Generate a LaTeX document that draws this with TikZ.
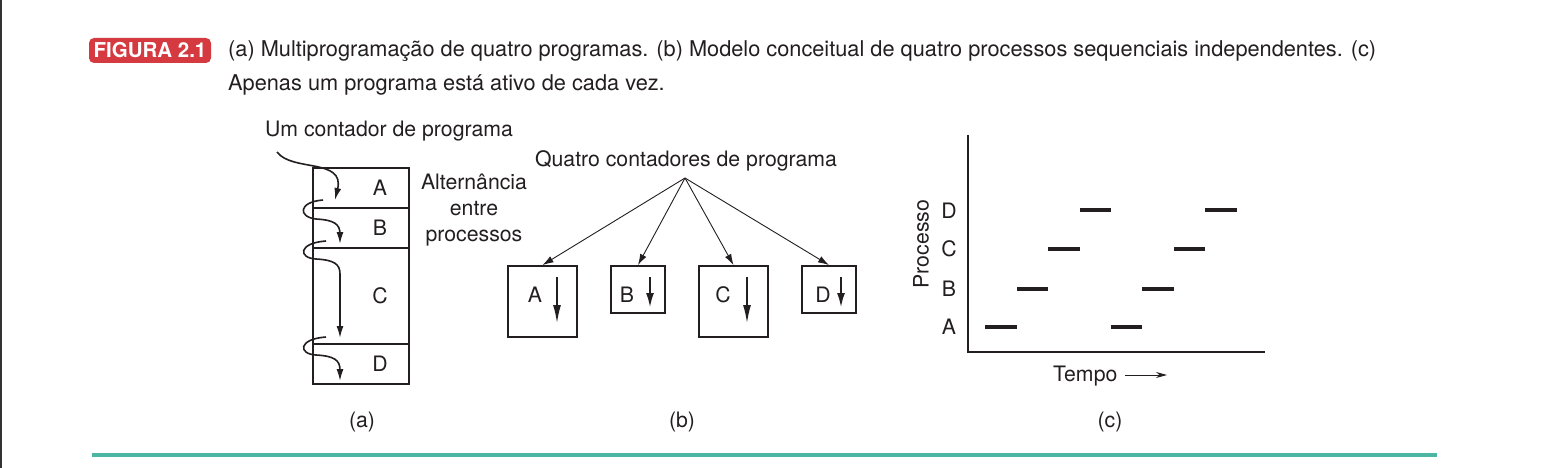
\documentclass[tikz,border=0pt]{standalone}
\usepackage{fontspec}
\setmainfont{TeX Gyre Heros}
\usetikzlibrary{arrows.meta}
\definecolor{ink}{HTML}{231F20}
\definecolor{badgered}{HTML}{D43A40}
\definecolor{rulecol}{HTML}{4DB6A2}
\definecolor{edgegray}{HTML}{333333}
\tikzset{
  lbl/.style={inner sep=0pt, text=ink, font=\fontsize{21.25}{26}\selectfont},
  captext/.style={inner sep=0pt, text=ink, font=\fontsize{21.75}{34}\selectfont, anchor=base west},
  seg/.style={draw=ink, line width=1.9pt, inner sep=0pt},
  pbox/.style={draw=ink, line width=1.9pt, inner sep=0pt},
  flow/.style={draw=ink, line width=1.6pt, -{Latex[length=12pt,width=7pt]}},
  inlong/.style={draw=ink, line width=1.5pt, -{Latex[length=18pt,width=8pt]}},
  inshort/.style={draw=ink, line width=1.5pt, -{Latex[length=14pt,width=8pt]}},
  fan/.style={draw=ink, line width=0.9pt, -{Latex[length=11pt,width=7pt]}},
  bar/.style={draw=ink, line width=4.5pt},
  axis/.style={draw=ink, line width=2pt},
}
\begin{document}
\begin{tikzpicture}[x=1pt,y=-1pt]
\useasboundingbox (0,0) rectangle (1550,468);
\fill[white] (0,0) rectangle (1550,468);
\draw[edgegray, line width=1.5pt] (0.75,0) -- (0.75,468);

% caption
\node[fill=badgered, rounded corners=5pt, minimum width=122pt, minimum height=25pt, inner sep=0pt,
      text=white, font=\fontsize{20.5}{24}\selectfont\bfseries] (badge) at (150,50.5) {FIGURA 2.1};
\node[captext] (cap1) at (228,57) {(a) Multiprogramação de quatro programas. (b) Modelo conceitual de quatro processos sequenciais independentes. (c)};
\node[captext] (cap2) at (228,91) {Apenas um programa está ativo de cada vez.};

% (a)
\node[seg, minimum width=96pt, minimum height=40pt] (sa) at (361,188) {};
\node[seg, minimum width=96pt, minimum height=40pt] (sb) at (361,228) {};
\node[seg, minimum width=96pt, minimum height=96pt] (sc) at (361,296) {};
\node[seg, minimum width=96pt, minimum height=40pt] (sd) at (361,364) {};
\node[lbl] (la) at (380,188) {A};
\node[lbl] (lb) at (380,228) {B};
\node[lbl] (lc) at (380,296) {C};
\node[lbl] (ld) at (380,364) {D};
\node[lbl, anchor=base west] (umpc) at (265,137) {Um contador de programa};
\node[lbl, align=center] (alt) at (474,210) {Alternância\\entre\\processos};
\node[lbl, anchor=base] (capa) at (362,427) {(a)};

\coordinate (c0) at (277,152);
\coordinate (c1) at (335,200);
\draw[flow] (c0) .. controls (292,172) and (345,158) .. (c1);
\coordinate (ab0) at (323,200);
\coordinate (ab1) at (340,244);
\draw[flow] (ab0) .. controls (298,202) and (298,217) .. (316,219) .. controls (334,220) and (340,224) .. (340,234) -- (ab1);
\coordinate (bc0) at (326,241);
\coordinate (bc1) at (340,338);
\draw[flow] (bc0) .. controls (298,243) and (298,258) .. (316,259) .. controls (334,260) and (340,264) .. (340,274) -- (bc1);
\coordinate (cd0) at (326,337);
\coordinate (cd1) at (340,381);
\draw[flow] (cd0) .. controls (298,339) and (298,354) .. (316,355) .. controls (334,356) and (340,360) .. (340,370) -- (cd1);

% (b)
\node[lbl, anchor=base] (quatro) at (686,166) {Quatro contadores de programa};
\coordinate (apex) at (685,178);
\node[pbox, minimum width=69pt, minimum height=71pt] (pa) at (542.5,301.5) {};
\node[pbox, minimum width=54pt, minimum height=47pt] (pb) at (638,289.5) {};
\node[pbox, minimum width=69pt, minimum height=71pt] (pc) at (733.5,301.5) {};
\node[pbox, minimum width=54pt, minimum height=47pt] (pd) at (829,289.5) {};
\draw[fan] (apex) -- (pa.north);
\draw[fan] (apex) -- (pb.north);
\draw[fan] (apex) -- (pc.north);
\draw[fan] (apex) -- (pd.north);
\node[lbl] (ta) at (535,295) {A};
\node[lbl] (tb) at (627,295) {B};
\node[lbl] (tc) at (723,295) {C};
\node[lbl] (td) at (823,295) {D};
\coordinate (ia0) at (557,277); \coordinate (ia1) at (557,323);
\coordinate (ib0) at (650,277); \coordinate (ib1) at (650,307);
\coordinate (ic0) at (747,277); \coordinate (ic1) at (747,323);
\coordinate (id0) at (841,277); \coordinate (id1) at (841,307);
\draw[inlong] (ia0) -- (ia1);
\draw[inshort] (ib0) -- (ib1);
\draw[inlong] (ic0) -- (ic1);
\draw[inshort] (id0) -- (id1);
\node[lbl, anchor=base] (capb) at (682,427) {(b)};

% (c)
\coordinate (ytop) at (968,135);
\coordinate (orig) at (968,352);
\coordinate (xend) at (1265,352);
\draw[axis] (ytop) -- (orig) -- (xend);
\node[lbl] (ya) at (949,327) {A};
\node[lbl] (yb) at (949,289) {B};
\node[lbl] (yc) at (949,249) {C};
\node[lbl] (yd) at (949,211) {D};
\node[lbl, rotate=90] (proc) at (921,244) {Processo};
\draw[bar] (985,327) -- (1017,327);
\draw[bar] (1017,289) -- (1048,289);
\draw[bar] (1048,249) -- (1080,249);
\draw[bar] (1080,210) -- (1111,210);
\draw[bar] (1111,327) -- (1142,327);
\draw[bar] (1142,289) -- (1174,289);
\draw[bar] (1174,249) -- (1205,249);
\draw[bar] (1205,210) -- (1237,210);
\node[lbl, anchor=base west] (tempo) at (1053,381) {Tempo};
\coordinate (t0) at (1125,375);
\coordinate (t1) at (1167,375);
\draw[draw=ink, line width=0.9pt, -{Stealth[length=11pt,width=6pt]}] (t0) -- (t1);
\node[lbl, anchor=base] (capc) at (1110,427) {(c)};

% bottom rule
\draw[rulecol, line width=4pt] (92,455) -- (1437,455);
\end{tikzpicture}
\end{document}
